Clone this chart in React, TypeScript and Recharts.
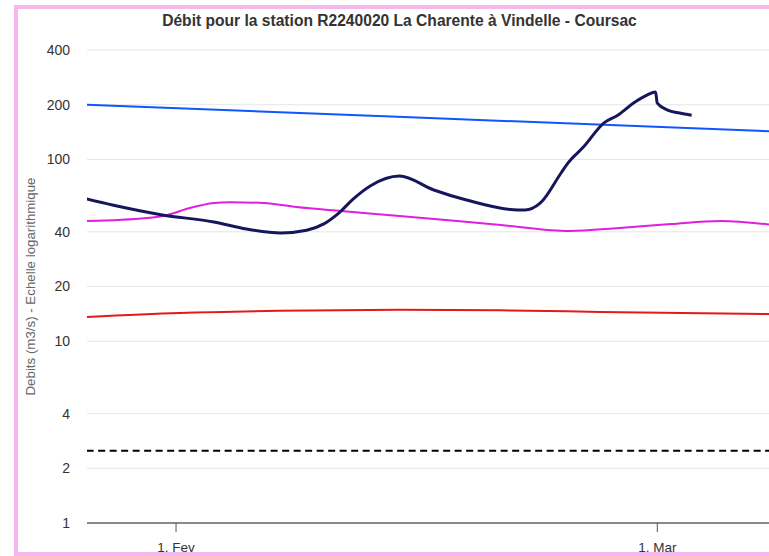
import { LineChart, Line, XAxis, YAxis, CartesianGrid } from 'recharts'

// day numbers count from 1 Jan (1 Feb = 31, 1 Mar = 59)
const observedDays = [25.8, 27.3, 30.2, 33.2, 35.1, 37.1, 38.6, 39.6, 40.5, 41.3, 42.3, 44.0, 46.0, 47.9, 50.9, 51.3, 52.2, 53.4, 53.8, 54.7, 55.9, 56.7, 57.6, 58.4, 58.9, 59.0, 59.6, 60.3, 61.0]
const observedFlow = [60.6, 56.1, 49.5, 45.3, 41.4, 39.4, 40.8, 44.2, 51.0, 60.5, 71.5, 81.0, 67.9, 59.8, 52.7, 52.7, 57.6, 84.2, 95.5, 117, 159, 175, 204, 226, 235, 204, 187, 180, 175]

const blueDays = [25.8, 45.0, 65.5]
const blueFlow = [200, 170, 143]

const magentaDays = [25.8, 29.3, 30.5, 31.8, 33.2, 34.1, 36.1, 38.0, 40.6, 44.0, 49.9, 53.9, 56.8, 59.8, 62.7, 65.5]
const magentaFlow = [45.8, 47.6, 49.5, 54.0, 57.6, 58.2, 57.6, 54.7, 52.0, 48.9, 43.6, 40.4, 42.0, 44.1, 45.8, 43.8]

const redDays = [25.8, 31.2, 37.0, 44.0, 49.9, 55.7, 65.5]
const redFlow = [13.6, 14.3, 14.7, 14.9, 14.8, 14.5, 14.1]

const dashedDays = [25.8, 65.5]
const dashedFlow = [2.5, 2.5]

const yTicks = [1, 2, 4, 10, 20, 40, 100, 200, 400]
const xTicks = [31, 59]
const xTickLabels: Record<number, string> = { 31: '1. Fev', 59: '1. Mar' }

const toPoints = (days: number[], flow: number[]) =>
  days.map((d, i) => ({ d, v: flow[i] }))

const font = '"Liberation Sans", Arial, sans-serif'

export default function App() {
  return (
    <div style={{ position: 'fixed', left: 0, top: 0, width: 769, height: 556, overflow: 'hidden', background: '#fff', fontFamily: font }}>
      <div style={{ position: 'absolute', left: 14, top: 5, width: 800, height: 551, border: '4px solid #f4b8ec', boxSizing: 'border-box' }} />
      <div style={{ position: 'absolute', left: 0, top: 12, width: 799, textAlign: 'center', fontSize: 15.6, fontWeight: 'bold', color: '#333' }}>
        Débit pour la station R2240020 La Charente à Vindelle - Coursac
      </div>
      <div style={{ position: 'absolute', left: 0, top: 0 }}>
        <LineChart width={769} height={556} margin={{ top: 50, right: 0, bottom: 0, left: 0 }}>
          <CartesianGrid vertical={false} stroke="#e6e6e6" />
          <XAxis
            type="number"
            dataKey="d"
            domain={[25.82, 65.5]}
            ticks={xTicks}
            tickFormatter={(t: number) => xTickLabels[t] ?? ''}
            height={33}
            tickSize={9}
            tickMargin={10}
            stroke="#888"
            strokeWidth={2}
            tickLine={{ stroke: '#555', strokeWidth: 1 }}
            tick={{ fill: '#333', fontSize: 13.5, fontFamily: font }}
            allowDataOverflow
          />
          <YAxis
            scale="log"
            domain={[1, 400]}
            ticks={yTicks}
            width={87}
            axisLine={false}
            tickLine={false}
            tickSize={0}
            tickMargin={17}
            tick={{ fill: '#333', fontSize: 14, fontFamily: font }}
            allowDataOverflow
            label={{ value: 'Debits (m3/s) - Echelle logarithmique', angle: -90, position: 'insideLeft', offset: 30, style: { fill: '#666', fontSize: 13.3, fontFamily: font, textAnchor: 'middle' } }}
          />
          <Line data={toPoints(dashedDays, dashedFlow)} dataKey="v" stroke="#000" strokeWidth={2} strokeDasharray="7 4.5" dot={false} activeDot={false} isAnimationActive={false} />
          <Line data={toPoints(redDays, redFlow)} dataKey="v" type="monotone" stroke="#e31a1c" strokeWidth={2} dot={false} activeDot={false} isAnimationActive={false} />
          <Line data={toPoints(magentaDays, magentaFlow)} dataKey="v" type="monotone" stroke="#e01ee0" strokeWidth={2} dot={false} activeDot={false} isAnimationActive={false} />
          <Line data={toPoints(blueDays, blueFlow)} dataKey="v" type="monotone" stroke="#1155ff" strokeWidth={2} dot={false} activeDot={false} isAnimationActive={false} />
          <Line data={toPoints(observedDays, observedFlow)} dataKey="v" type="monotone" stroke="#16165c" strokeWidth={3} dot={false} activeDot={false} isAnimationActive={false} />
        </LineChart>
      </div>
    </div>
  )
}
